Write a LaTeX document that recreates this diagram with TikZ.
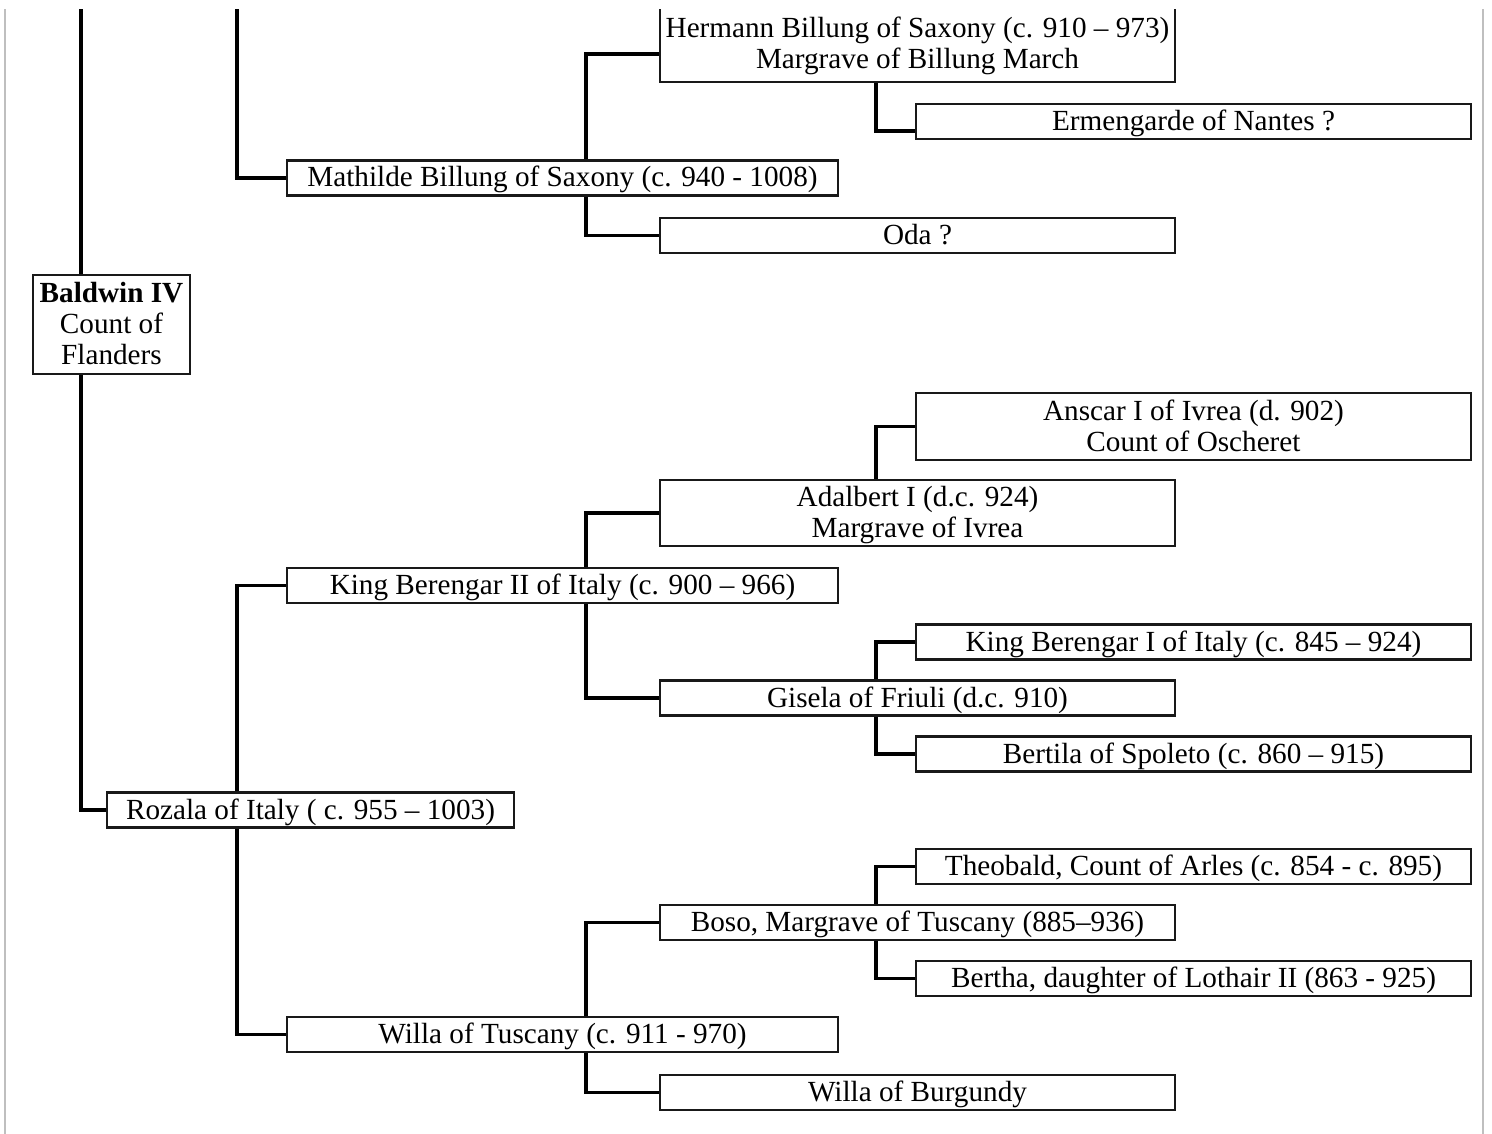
\documentclass[tikz,border=0pt]{standalone}
\usepackage{fontspec}
\setmainfont{Liberation Serif}
\usetikzlibrary{calc}
\begin{document}
\begin{tikzpicture}[x=1pt,y=-1pt,
  person/.style={draw=black!90, line width=2.1pt, fill=white, inner sep=0pt,
    align=center, font=\fontsize{29.2}{31}\selectfont,
    text height=24pt, text depth=6pt, minimum height=35pt},
  twoline/.style={text height=55pt},
  threeline/.style={text height=86pt},
  wideA/.style={person, minimum width=515pt},
  wideB/.style={person, minimum width=555pt},
  wideC/.style={person, minimum width=551pt},
  link/.style={draw=black, line width=3.6pt},
  frame/.style={draw=black!25, line width=2.4pt}]
\useasboundingbox (0,0) rectangle (1492,1134);
\clip (0,10) rectangle (1492,1134);
\fill[white] (0,0) rectangle (1492,1134);
% column coordinates (free ends at the top)
\coordinate (c1) at (81,0);
\coordinate (c2) at (237,0);
\coordinate (c3) at (586,0);
\coordinate (c4) at (876,0);
% frame lines
\coordinate (fl1) at (5,0);   \coordinate (fl2) at (5,1140);
\coordinate (fr1) at (1483,0); \coordinate (fr2) at (1483,1140);
\draw[frame] (fl1) -- (fl2);
\draw[frame] (fr1) -- (fr2);
% nodes
\node[wideA, twoline, minimum height=76pt] (hermann) at (917.5,44) {Hermann Billung of Saxony (c. 910 – 973)\\Margrave of Billung March};
\node[wideB] (ermengarde) at (1193.5,121.5) {Ermengarde of Nantes ?};
\node[wideC] (mathilde) at (562.5,178) {Mathilde Billung of Saxony (c. 940 - 1008)};
\node[wideA] (oda) at (917.5,235.5) {Oda ?};
\node[person, threeline, minimum width=157pt, minimum height=99pt] (baldwin) at (111.5,324.5) {\textbf{Baldwin IV}\\Count of\\Flanders};
\node[wideB, twoline, minimum height=67pt] (anscar) at (1193.5,426.5) {Anscar I of Ivrea (d. 902)\\Count of Oscheret};
\node[wideA, twoline, minimum height=66pt] (adalbert) at (917.5,513) {Adalbert I (d.c. 924)\\Margrave of Ivrea};
\node[wideC] (berengarII) at (562.5,585.5) {King Berengar II of Italy (c. 900 – 966)};
\node[wideB] (berengarI) at (1193.5,642) {King Berengar I of Italy (c. 845 – 924)};
\node[wideA] (gisela) at (917.5,698) {Gisela of Friuli (d.c. 910)};
\node[wideB] (bertila) at (1193.5,754) {Bertila of Spoleto (c. 860 – 915)};
\node[person, minimum width=407pt] (rozala) at (310.5,810) {Rozala of Italy ( c. 955 – 1003)};
\node[wideB] (theobald) at (1193.5,866.5) {Theobald, Count of Arles (c. 854 - c. 895)};
\node[wideA] (boso) at (917.5,922.5) {Boso, Margrave of Tuscany (885–936)};
\node[wideB] (bertha) at (1193.5,978.5) {Bertha, daughter of Lothair II (863 - 925)};
\node[wideC] (willaT) at (562.5,1034.5) {Willa of Tuscany (c. 911 - 970)};
\node[wideA] (willaB) at (917.5,1092.5) {Willa of Burgundy};
% connectors
\draw[link] (baldwin.north -| c1) -- (c1);
\draw[link] (baldwin.south -| c1) |- (rozala.west);
\draw[link] (c2) |- (mathilde.west);
\draw[link] (mathilde.north -| c3) |- ($(hermann.south west)+(0,-29)$);
\draw[link] (hermann.south -| c4) |- ($(ermengarde.south west)+(0,-9)$);
\draw[link] (mathilde.south -| c3) |- (oda.west);
\draw[link] (rozala.north -| c2) |- (berengarII.west);
\draw[link] (berengarII.north -| c3) |- (adalbert.west);
\draw[link] (adalbert.north -| c4) |- (anscar.west);
\draw[link] (berengarII.south -| c3) |- (gisela.west);
\draw[link] (gisela.north -| c4) |- (berengarI.west);
\draw[link] (gisela.south -| c4) |- (bertila.west);
\draw[link] (rozala.south -| c2) |- (willaT.west);
\draw[link] (willaT.north -| c3) |- (boso.west);
\draw[link] (boso.north -| c4) |- (theobald.west);
\draw[link] (boso.south -| c4) |- (bertha.west);
\draw[link] (willaT.south -| c3) |- (willaB.west);
\end{tikzpicture}
\end{document}
